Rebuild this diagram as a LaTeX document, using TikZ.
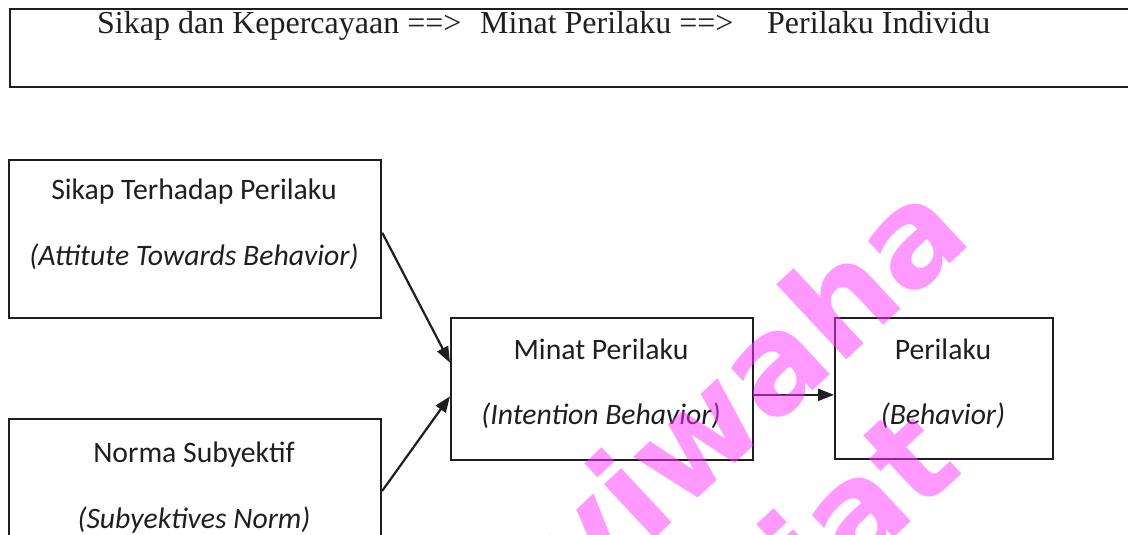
\documentclass[tikz,border=0pt]{standalone}
\usepackage{fontspec}
\setmainfont{Liberation Serif}
\newfontfamily\calfont{Carlito}
\newfontfamily\wmfont{DejaVu Sans}
\usetikzlibrary{arrows.meta,calc}
\definecolor{wmc}{RGB}{255,51,255}
\begin{document}
\begin{tikzpicture}[x=1pt,y=-1pt,
  box/.style={draw=black!88, line width=2.2pt, inner sep=0pt},
  lab/.style={font=\calfont\fontsize{29.7}{34}\selectfont, text=black!88, anchor=base, inner sep=0pt},
  ilab/.style={lab, font=\calfont\itshape\fontsize{29.7}{34}\selectfont},
  top/.style={font=\fontsize{32}{38}\selectfont, text=black!88, anchor=base west, inner sep=0pt},
  conn/.style={draw=black!88, line width=2.2pt, -{Triangle[length=16pt,width=12pt]}},
  wm/.style={font=\wmfont\bfseries\fontsize{135}{150}\selectfont, text=wmc, text opacity=0.5, rotate=43, anchor=base east, inner sep=0pt}]
\useasboundingbox (0,0) rectangle (1128,535);
\clip (0,0) rectangle (1128,535);
\fill[white] (0,0) rectangle (1128,535);
% top box
\node[box, minimum width=1131pt, minimum height=78pt, anchor=north west] (hdr) at (9,8) {};
\node[top] (h1) at (97,34) {Sikap dan Kepercayaan ==>};
\node[top] (h2) at (480,34) {Minat Perilaku ==>};
\node[top] (h3) at (767,34) {Perilaku Individu};
% boxes
\node[box, minimum width=372pt, minimum height=158pt, anchor=north west] (b1) at (8,159) {};
\node[box, minimum width=302pt, minimum height=142pt, anchor=north west] (b2) at (450,317) {};
\node[box, minimum width=218pt, minimum height=141pt, anchor=north west] (b3) at (834,317) {};
\node[box, minimum width=372pt, minimum height=162pt, anchor=north west] (b4) at (8,418) {};
% texts
\node[lab] (t1a) at (194,199) {Sikap Terhadap Perilaku};
\node[ilab] (t1b) at (194,265) {(Attitute Towards Behavior)};
\node[lab] (t2a) at (601,359) {Minat Perilaku};
\node[ilab] (t2b) at (601,424) {(Intention Behavior)};
\node[lab] (t3a) at (943,359) {Perilaku};
\node[ilab] (t3b) at (943,424) {(Behavior)};
\node[lab] (t4a) at (194,462) {Norma Subyektif};
\node[ilab] (t4b) at (194,528) {(Subyektives Norm)};
% connectors
\coordinate (s1) at ($(b1.north east)!0.46!(b1.south east)$);
\coordinate (e1) at ($(b2.north west)!0.317!(b2.south west)$);
\coordinate (s2) at ($(b4.north east)!0.444!(b4.south east)$);
\coordinate (e2) at ($(b2.north west)!0.55!(b2.south west)$);
\coordinate (s3) at ($(b2.north east)!0.54!(b2.south east)$);
\draw[conn] (s1) -- (e1);
\draw[conn] (s2) -- (e2);
\draw[conn] (s3) -- (s3 -| b3.west);
% watermark
\node[wm] (w1) at (975,240) {viwaha};
\node[wm] (w2) at (966,470) {iat};
\end{tikzpicture}
\end{document}
